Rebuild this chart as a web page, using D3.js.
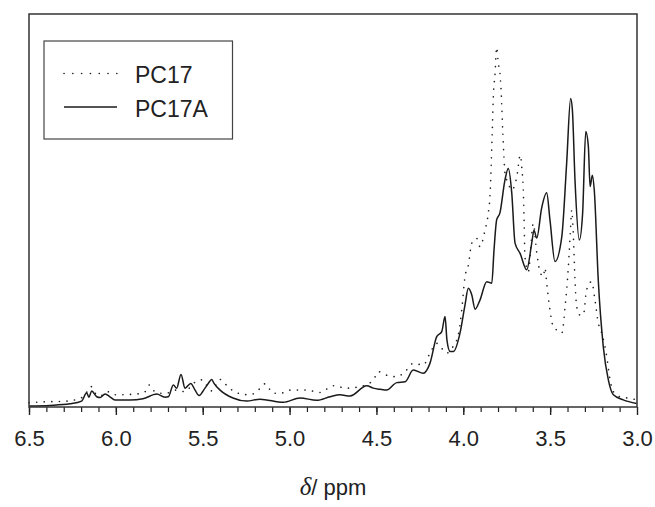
<!DOCTYPE html>
<html>
<head>
<meta charset="utf-8">
<script src="https://cdn.jsdelivr.net/npm/d3@7"></script>
<style>
  html, body { margin: 0; padding: 0; background: #fff; }
  svg { display: block; font-family: "Liberation Sans", Arial, Helvetica, sans-serif; }
</style>
</head>
<body>
<svg id="chart" width="655" height="507"></svg>
<script>
// ---- data (chemical shift in ppm, intensity in arbitrary units 0–100) ----
const pc17aPpm = [6.500,6.379,6.264,6.197,6.168,6.155,6.139,6.110,6.091,6.062,6.034,6.005,5.919,5.844,5.765,5.717,5.698,5.669,5.650,5.625,5.602,5.569,5.544,5.521,5.487,5.468,5.448,5.435,5.400,5.326,5.247,5.170,5.036,4.940,4.844,4.767,4.710,4.652,4.556,4.518,4.479,4.441,4.383,4.335,4.288,4.230,4.192,4.153,4.124,4.105,4.094,4.076,4.057,4.019,3.990,3.971,3.951,3.932,3.904,3.865,3.836,3.823,3.808,3.789,3.760,3.741,3.721,3.702,3.673,3.635,3.606,3.593,3.577,3.549,3.520,3.501,3.472,3.433,3.405,3.382,3.372,3.357,3.332,3.313,3.295,3.280,3.270,3.257,3.246,3.223,3.194,3.165,3.136,3.079,3.002];
const pc17aInt = [0.25,0.4,0.8,1.5,3.6,2.5,4.1,2.6,2.4,3.3,2.6,1.8,1.8,2.1,3.3,2.5,2.6,5.6,4.8,8.3,4.8,6.0,4.3,2.9,4.8,6.0,7.0,6.0,4.3,2.3,1.5,2.0,1.2,2.3,1.7,2.6,3.1,2.8,5.4,4.8,4.5,4.3,6.2,6.4,9.4,8.6,11.1,17.9,19.2,23.0,17.0,14.1,14.1,18.8,26.0,30.2,28.5,24.9,27.2,31.9,31.5,40.0,47.6,49.4,57.8,60.7,54.5,41.7,39.1,34.9,41.7,45.0,43.0,50.6,54.5,47.6,37.0,43.3,62.0,78.5,75.6,57.8,42.5,49.3,70.1,66.3,56.1,59.0,55.2,32.3,15.3,6.9,3.1,1.8,0.9];

const pc17Ppm = [6.500,6.418,6.283,6.187,6.143,6.120,6.091,6.049,6.005,5.880,5.832,5.807,5.786,5.746,5.700,5.660,5.602,5.554,5.506,5.448,5.400,5.372,5.304,5.228,5.189,5.141,5.094,5.036,4.997,4.901,4.825,4.748,4.671,4.576,4.518,4.489,4.441,4.383,4.335,4.288,4.230,4.192,4.153,4.124,4.095,4.065,4.029,4.009,3.990,3.971,3.951,3.923,3.904,3.875,3.856,3.846,3.833,3.827,3.817,3.808,3.798,3.789,3.783,3.773,3.766,3.760,3.741,3.721,3.692,3.672,3.662,3.654,3.650,3.645,3.626,3.597,3.577,3.558,3.539,3.530,3.520,3.501,3.482,3.462,3.433,3.414,3.395,3.382,3.376,3.367,3.357,3.347,3.328,3.309,3.290,3.261,3.242,3.223,3.203,3.174,3.155,3.136,3.098,3.040,3.002];
const pc17Int = [1.1,1.3,1.5,2.6,5.2,3.6,2.8,3.9,3.1,3.3,3.9,5.6,4.3,3.5,3.6,4.3,3.9,6.0,6.9,4.1,7.0,5.9,3.6,3.1,3.9,5.9,3.5,3.6,4.3,4.3,3.7,5.4,4.8,5.4,6.9,9.0,8.1,7.7,9.0,11.1,10.7,13.7,16.2,14.9,13.7,15.0,18.3,24.7,33.2,36.1,41.7,42.9,40.8,45.0,49.3,53.9,70.5,79.0,84.9,91.5,87.4,84.9,81.1,70.5,63.7,59.5,56.9,55.2,58.6,64.1,60.3,54.4,47.6,38.2,34.4,46.7,39.2,34.4,33.2,35.4,31.6,24.7,20.4,19.6,18.8,25.5,35.7,45.9,50.1,44.3,32.3,25.5,23.4,23.4,29.8,31.9,27.2,21.4,18.8,12.8,6.9,3.9,2.6,2.2,1.8];

const majorTicks = [6.5, 6.0, 5.5, 5.0, 4.5, 4.0, 3.5, 3.0];
const minorTicks = d3.range(35).map(i => +(6.5 - i * 0.1).toFixed(1));
const seriesNames = ["PC17", "PC17A"];
const xTitle = "ppm";

// ---- layout ----
const svg = d3.select("#chart");
const L = 29, R = 637, T = 14, B = 407;

const x = d3.scaleLinear().domain([6.5, 3.0]).range([L, R]);
const y = d3.scaleLinear().domain([0, 100]).range([B, T]);

const line = d3.line()
  .x(d => x(d[0]))
  .y(d => y(d[1]))
  .curve(d3.curveMonotoneX);

const pc17 = pc17Ppm.map((p, i) => [p, pc17Int[i]]);
const pc17a = pc17aPpm.map((p, i) => [p, pc17aInt[i]]);

// spectra
svg.append("path").datum(pc17)
  .attr("d", line)
  .attr("fill", "none")
  .attr("stroke", "#222")
  .attr("stroke-width", 1.6)
  .attr("stroke-linecap", "round")
  .attr("stroke-dasharray", "0.1 7.5");

svg.append("path").datum(pc17a)
  .attr("d", line)
  .attr("fill", "none")
  .attr("stroke", "#1a1a1a")
  .attr("stroke-width", 1.5);

// minor ticks
const minorAxis = d3.axisBottom(x).tickValues(minorTicks).tickSize(5).tickFormat("");
const gMinor = svg.append("g").attr("transform", `translate(0,${B})`).call(minorAxis);
gMinor.select(".domain").remove();
gMinor.selectAll("line").attr("stroke", "#222").attr("stroke-width", 1.2);

// major ticks
const majorAxis = d3.axisBottom(x).tickValues(majorTicks).tickSize(8).tickPadding(15)
  .tickFormat(d3.format(".1f"));
const gMajor = svg.append("g").attr("transform", `translate(0,${B})`).call(majorAxis);
gMajor.select(".domain").remove();
gMajor.selectAll("line").attr("stroke", "#222").attr("stroke-width", 1.4);
gMajor.selectAll("text")
  .attr("font-size", 22)
  .attr("fill", "#222")
  .attr("font-family", "'Liberation Sans', Arial, sans-serif");

// frame
svg.append("rect")
  .attr("x", L).attr("y", T)
  .attr("width", R - L).attr("height", B - T)
  .attr("fill", "none")
  .attr("stroke", "#333")
  .attr("stroke-width", 1.5);

// x title
const xt = svg.append("text")
  .attr("x", 333).attr("y", 495)
  .attr("text-anchor", "middle")
  .attr("font-size", 22)
  .attr("fill", "#222");
xt.append("tspan").attr("font-family", "'Liberation Serif', 'Times New Roman', serif")
  .attr("font-style", "italic").attr("font-size", 25).text("δ");
xt.append("tspan").text("/ " + xTitle);

// legend
const lg = svg.append("g");
lg.append("rect")
  .attr("x", 44).attr("y", 41)
  .attr("width", 188.5).attr("height", 98)
  .attr("fill", "#fff")
  .attr("stroke", "#444")
  .attr("stroke-width", 1.2);
const legendY = [73.5, 107];
lg.append("line")
  .attr("x1", 64).attr("x2", 117).attr("y1", legendY[0]).attr("y2", legendY[0])
  .attr("stroke", "#222").attr("stroke-width", 1.6)
  .attr("stroke-linecap", "round").attr("stroke-dasharray", "0.1 8.7");
lg.append("line")
  .attr("x1", 64).attr("x2", 117).attr("y1", legendY[1]).attr("y2", legendY[1])
  .attr("stroke", "#1a1a1a").attr("stroke-width", 1.5);
seriesNames.forEach((n, i) => {
  lg.append("text")
    .attr("x", 135).attr("y", legendY[i] + 9.5)
    .attr("font-size", 23)
    .attr("fill", "#222")
    .text(n);
});
</script>
</body>
</html>
